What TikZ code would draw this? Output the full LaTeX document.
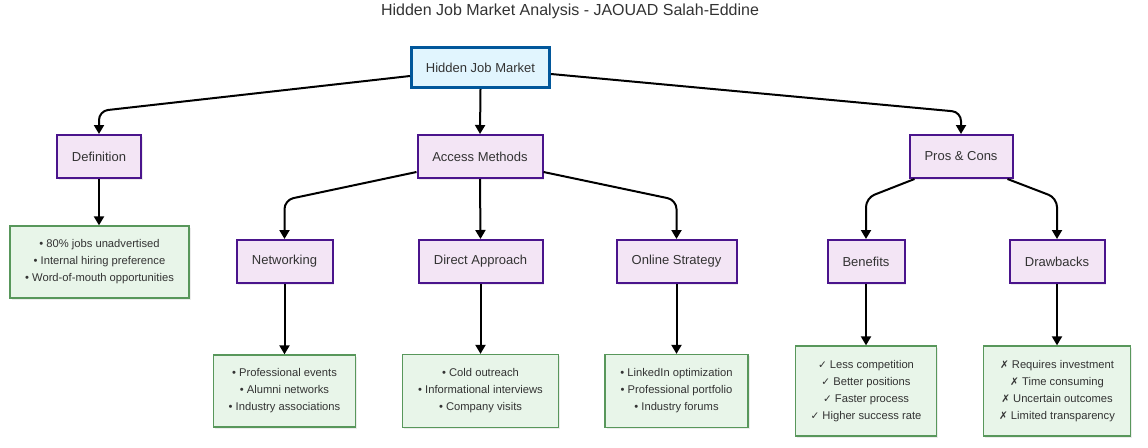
\documentclass[tikz,border=0pt]{standalone}
\usepackage{fontspec}
\setmainfont{Liberation Sans}
\newfontfamily\symfont{DejaVu Sans}
\usetikzlibrary{arrows.meta,shadows}
\definecolor{txt}{HTML}{333333}
\definecolor{rootfill}{HTML}{E1F5FE}
\definecolor{rootline}{HTML}{01579B}
\definecolor{midfill}{HTML}{F3E5F5}
\definecolor{midline}{HTML}{4A148C}
\definecolor{leaffill}{HTML}{E8F5E9}
\definecolor{leafline}{HTML}{2E7D32}
\newcommand{\ck}{{\symfont\fontsize{10.5}{17}\selectfont ✓}}
\newcommand{\xx}{{\symfont\fontsize{10.5}{17}\selectfont ✗}}
\tikzset{
  base/.style={rectangle, align=center, text=txt, inner sep=0pt,
    drop shadow={shadow xshift=1.5pt, shadow yshift=-1.5pt, opacity=0.15}},
  rootbox/.style={base, fill=rootfill, draw=rootline, line width=3pt, font=\fontsize{13}{16}\selectfont},
  midbox/.style={base, fill=midfill, draw=midline, line width=2pt, minimum height=43pt, font=\fontsize{13}{16}\selectfont},
  leafbox/.style={base, fill=leaffill, draw=leafline!80!white, line width=1.3pt, font=\fontsize{11.2}{17}\selectfont},
  arr/.style={draw=black, line width=2pt, -{Triangle[width=10pt,length=9pt]}, rounded corners=9pt}
}
\begin{document}
\begin{tikzpicture}[x=1pt,y=-1pt]
\useasboundingbox (0,0) rectangle (1148,447);
\node[text=txt, font=\fontsize{16}{19}\selectfont] (title) at (570,11) {Hidden Job Market Analysis - JAOUAD Salah-Eddine};

\node[rootbox, minimum width=138pt, minimum height=40pt] (root) at (480.5,67.5) {Hidden Job Market};

\node[midbox, minimum width=84pt] (def) at (99,156.5) {Definition};
\node[midbox, minimum width=125pt] (acc) at (480,156.5) {Access Methods};
\node[midbox, minimum width=103pt] (pc) at (961,156.5) {Pros \& Cons};

\node[leafbox, minimum width=179pt, minimum height=72pt] (defl) at (99.5,262) {• 80\% jobs unadvertised\\• Internal hiring preference\\• Word-of-mouth opportunities};

\node[midbox, minimum width=96pt] (net) at (284.5,261.5) {Networking};
\node[midbox, minimum width=124pt] (dir) at (480.5,261.5) {Direct Approach};
\node[midbox, minimum width=120pt] (onl) at (676.5,261.5) {Online Strategy};
\node[midbox, minimum width=77pt] (ben) at (866,261.5) {Benefits};
\node[midbox, minimum width=95pt] (drw) at (1057,261.5) {Drawbacks};

\node[leafbox, minimum width=142pt, minimum height=72pt] (netl) at (284.5,391) {• Professional events\\• Alumni networks\\• Industry associations};
\node[leafbox, minimum width=156pt, minimum height=73pt] (dirl) at (480.5,391) {• Cold outreach\\• Informational interviews\\• Company visits};
\node[leafbox, minimum width=143pt, minimum height=73pt] (onll) at (676.5,391) {• LinkedIn optimization\\• Professional portfolio\\• Industry forums};
\node[leafbox, minimum width=141pt, minimum height=90pt] (benl) at (866,391) {\ck{} Less competition\\\ck{} Better positions\\\ck{} Faster process\\\ck{} Higher success rate};
\node[leafbox, minimum width=147pt, minimum height=90pt] (drwl) at (1057,391) {\xx{} Requires investment\\\xx{} Time consuming\\\xx{} Uncertain outcomes\\\xx{} Limited transparency};

% bend and start coordinates
\coordinate (b1) at (99,111);
\coordinate (b2) at (961,112);
\coordinate (b3) at (284.5,200);
\coordinate (b4) at (676.5,200);
\coordinate (b5) at (866,198);
\coordinate (b6) at (1057,198);
\coordinate (p1) at ([xshift=6pt]pc.south west);
\coordinate (p2) at ([xshift=-6pt]pc.south east);

\draw[arr] (root.west |- 0,76) -- (b1) -- (def.north);
\draw[arr] (root.south) -- (acc.north);
\draw[arr] (root.east |- 0,74) -- (b2) -- (pc.north);
\draw[arr] (def.south) -- (def.south |- defl.north);

\draw[arr] (acc.west |- 0,172) -- (b3) -- (net.north);
\draw[arr] (acc.south) -- (dir.north);
\draw[arr] (acc.east |- 0,172) -- (b4) -- (onl.north);

\draw[arr] (p1) -- (b5) -- (ben.north);
\draw[arr] (p2) -- (b6) -- (drw.north);

\draw[arr] (net.south) -- (netl.north);
\draw[arr] (dir.south) -- (dirl.north);
\draw[arr] (onl.south) -- (onll.north);
\draw[arr] (ben.south) -- (benl.north);
\draw[arr] (drw.south) -- (drwl.north);
\end{tikzpicture}
\end{document}
